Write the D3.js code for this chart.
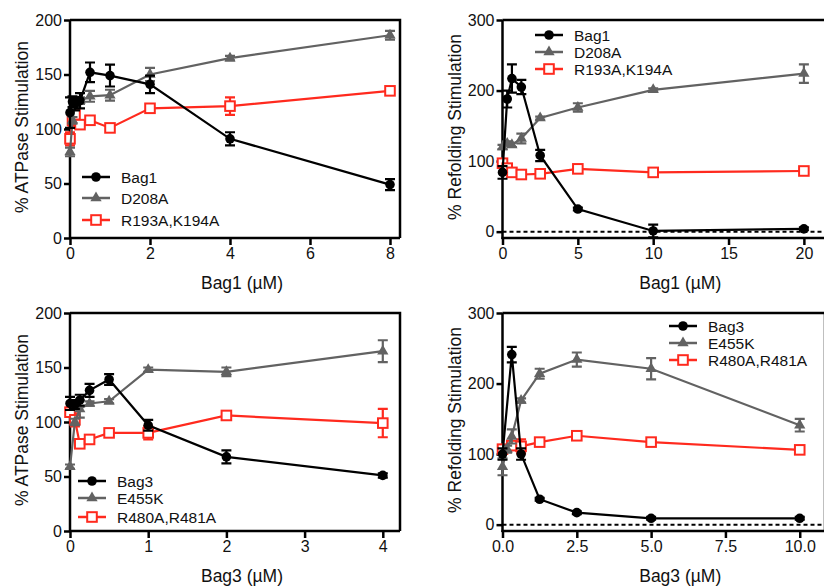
<!DOCTYPE html>
<html>
<head>
<meta charset="utf-8">
<script src="https://cdn.jsdelivr.net/npm/d3@7"></script>
<style>
  body { margin: 0; background: #fff; }
  svg { font-family: "Liberation Sans", Arial, sans-serif; }
</style>
</head>
<body>
<div id="chart"></div>
<script>
/* Bag1 / Bag3 ATPase and refolding panels */

// series names
const bag1Names = ["Bag1", "D208A", "R193A,K194A"];
const bag3Names = ["Bag3", "E455K", "R480A,R481A"];

// A: Bag1 ATPase
const atp1X = [0, 0.0625, 0.125, 0.25, 0.5, 1, 2, 4, 8];
const atp1Wt = [115, 125, 123, 126, 152, 149, 141, 91, 49];
const atp1WtErr = [14, 5, 6, 7, 9, 10, 8, 6, 5];
const atp1Mut1 = [79, 108, 122, 126, 130, 131, 150, 165, 186];
const atp1Mut1Err = [4, 3, 3, 3, 5, 5, 6, 2, 4];
const atp1Mut2 = [91, 108, 113, 104, 108, 101, 119, 121, 135];
const atp1Mut2Err = [6, 5, 3, 3, 2, 2, 2, 8, 2];

// B: Bag1 refolding
const ref1X = [0, 0.3125, 0.625, 1.25, 2.5, 5, 10, 20];
const ref1Wt = [84, 188, 217, 205, 108, 32, 1, 4];
const ref1WtErr = [9, 12, 20, 10, 8, 2, 9, 2];
const ref1Mut1 = [120, 125, 123, 132, 161, 176, 201, 224];
const ref1Mut1Err = [3, 3, 3, 7, 2, 6, 2, 13];
const ref1Mut2 = [97, 90, 84, 81, 82, 89, 84, 86];
const ref1Mut2Err = [3, 3, 3, 5, 3, 3, 3, 3];

// C: Bag3 ATPase
const atp3X = [0, 0.0625, 0.125, 0.25, 0.5, 1, 2, 4];
const atp3Wt = [117, 116, 120, 129, 139, 97, 68, 51];
const atp3WtErr = [6, 4, 5, 6, 5, 5, 6, 2];
const atp3Mut1 = [59, 100, 112, 117, 119, 148, 146, 165];
const atp3Mut1Err = [2, 3, 8, 2, 2, 2, 4, 10];
const atp3Mut2 = [109, 102, 80, 84, 90, 90, 106, 99];
const atp3Mut2Err = [4, 6, 3, 3, 3, 6, 2, 13];

// D: Bag3 refolding
const ref3X = [0, 0.156, 0.3125, 0.625, 1.25, 2.5, 5, 10];
const ref3Wt = [100, null, 241, 100, 36, 17, 9, 9];
const ref3WtErr = [8, 0, 11, 8, 2, 2, 2, 2];
const ref3Mut1 = [82, 107, 125, 176, 214, 234, 221, 141];
const ref3Mut1Err = [12, 5, 10, 3, 7, 10, 15, 9];
const ref3Mut2 = [107, null, 112, 111, 117, 126, 117, 106];
const ref3Mut2Err = [4, 0, 4, 10, 5, 3, 3, 5];

// tick labels
const atpYTicks = [0, 50, 100, 150, 200];
const refYTicks = [0, 100, 200, 300];
const atp1XTicks = [0, 2, 4, 6, 8];
const ref1XTicks = [0, 5, 10, 15, 20];
const atp3XTicks = [0, 1, 2, 3, 4];
const ref3XTicks = [0, 2.5, 5, 7.5, 10];

const colors = ["#000000", "#626262", "#ff2a1e"];

const svg = d3.select("#chart").append("svg")
    .attr("width", 824)
    .attr("height", 586);

function series(xs, vals, errs) {
    return xs.map((x, i) => ({x: x, y: vals[i], e: errs[i]}));
}

function drawPanel(p) {
    const x = d3.scaleLinear().domain(p.xDomain).range(p.xRange);
    const y = d3.scaleLinear().domain(p.yDomain).range(p.yRange);
    const g = svg.append("g");
    const bottom = p.yRange[0], top = p.yRange[1];

    // frame (top + right)
    g.append("path")
        .attr("d", `M${p.xRange[0]},${top}H${p.xRange[1]}V${bottom}`)
        .attr("fill", "none").attr("stroke", "#000").attr("stroke-width", 2.5);

    if (p.zeroLine) {
        g.append("line")
            .attr("x1", p.xRange[0]).attr("x2", p.xRange[1])
            .attr("y1", y(0)).attr("y2", y(0))
            .attr("stroke", "#000").attr("stroke-width", 2)
            .attr("stroke-dasharray", "4,3");
    }

    const xAxis = g.append("g")
        .attr("transform", `translate(0,${bottom})`)
        .call(d3.axisBottom(x).tickValues(p.xTicks).tickFormat(p.xFormat)
            .tickSize(7).tickSizeOuter(0).tickPadding(3));
    const yAxis = g.append("g")
        .attr("transform", `translate(${p.xRange[0]},0)`)
        .call(d3.axisLeft(y).tickValues(p.yTicks).tickSize(6).tickSizeOuter(0).tickPadding(2));
    [xAxis, yAxis].forEach(a => {
        a.select(".domain").attr("stroke-width", 2.5);
        a.selectAll(".tick line").attr("stroke-width", 2.5);
        a.selectAll("text").attr("font-size", 16).attr("fill", "#111")
            .attr("font-family", "Liberation Sans, Arial, sans-serif");
    });
    yAxis.select(".domain").attr("d", `M0,${top}V${bottom + 1}`);
    xAxis.select(".domain").attr("d", `M${p.xRange[0] - 1},0H${p.xRange[1]}`);

    // axis titles
    g.append("text")
        .attr("x", (p.xRange[0] + Math.min(p.xRange[1], 824)) / 2 + p.xTitleShift)
        .attr("y", bottom + 51)
        .attr("text-anchor", "middle")
        .attr("font-size", 17.5).attr("fill", "#111")
        .text(p.xTitle);
    g.append("text")
        .attr("transform", `translate(${p.xRange[0] - 42},${(top + bottom) / 2 - 2}) rotate(-90)`)
        .attr("text-anchor", "middle")
        .attr("font-size", 17.5).attr("fill", "#111")
        .text(p.yTitle);

    const line = d3.line().defined(d => d.y != null).x(d => x(d.x)).y(d => y(d.y));

    // draw red, gray, black so black sits on top
    [2, 1, 0].forEach(k => {
        const data = p.data[k].filter(d => d.y != null);
        const c = colors[k];
        const sg = g.append("g");
        sg.append("path").datum(p.data[k].filter(d => d.y != null))
            .attr("d", line).attr("fill", "none")
            .attr("stroke", c).attr("stroke-width", 2.2);
        // error bars
        const eb = sg.selectAll(".eb").data(data.filter(d => d.e > 1.5)).join("g");
        eb.append("path")
            .attr("d", d => {
                const cx = x(d.x), y1 = y(d.y + d.e), y2 = y(d.y - d.e);
                return `M${cx},${y1}V${y2}M${cx - 5},${y1}H${cx + 5}M${cx - 5},${y2}H${cx + 5}`;
            })
            .attr("fill", "none").attr("stroke", c).attr("stroke-width", 2.2);
        drawMarker(sg, data.map(d => [x(d.x), y(d.y)]), k);
    });

    // legend
    p.names.forEach((name, k) => {
        const ly = p.legend.y[k];
        const lg = g.append("g");
        lg.append("line")
            .attr("x1", p.legend.x).attr("x2", p.legend.x + 28)
            .attr("y1", ly).attr("y2", ly)
            .attr("stroke", colors[k]).attr("stroke-width", 2.5);
        drawMarker(lg, [[p.legend.x + 14, ly]], k);
        lg.append("text")
            .attr("x", p.legend.x + 39).attr("y", ly + 5.5)
            .attr("font-size", 15.5).attr("fill", "#111")
            .text(name);
    });
}

function drawMarker(sel, pts, k) {
    if (k === 0) {
        sel.selectAll(null).data(pts).join("circle")
            .attr("cx", d => d[0]).attr("cy", d => d[1]).attr("r", 4.8)
            .attr("fill", colors[0]);
    } else if (k === 1) {
        sel.selectAll(null).data(pts).join("path")
            .attr("transform", d => `translate(${d[0]},${d[1]})`)
            .attr("d", d3.symbol(d3.symbolTriangle, 55))
            .attr("fill", colors[1]);
    } else {
        sel.selectAll(null).data(pts).join("rect")
            .attr("x", d => d[0] - 4.8).attr("y", d => d[1] - 4.8)
            .attr("width", 9.6).attr("height", 9.6)
            .attr("fill", "#fff").attr("stroke", colors[2]).attr("stroke-width", 2);
    }
}

drawPanel({
    xDomain: [0, 8.25], xRange: [70, 400],
    yDomain: [0, 200], yRange: [238, 20],
    xTicks: atp1XTicks, xFormat: d3.format("d"), yTicks: atpYTicks,
    xTitle: "Bag1 (µM)", yTitle: "% ATPase Stimulation", xTitleShift: 7,
    names: bag1Names, legend: {x: 82, y: [177, 198, 220]},
    data: [series(atp1X, atp1Wt, atp1WtErr), series(atp1X, atp1Mut1, atp1Mut1Err), series(atp1X, atp1Mut2, atp1Mut2Err)]
});

drawPanel({
    xDomain: [0, 21.6], xRange: [502.5, 828],
    yDomain: [-9, 300], yRange: [238, 20],
    xTicks: ref1XTicks, xFormat: d3.format("d"), yTicks: refYTicks, zeroLine: true,
    xTitle: "Bag1 (µM)", yTitle: "% Refolding Stimulation", xTitleShift: 17,
    names: bag1Names, legend: {x: 535, y: [35, 52, 69]},
    data: [series(ref1X, ref1Wt, ref1WtErr), series(ref1X, ref1Mut1, ref1Mut1Err), series(ref1X, ref1Mut2, ref1Mut2Err)]
});

drawPanel({
    xDomain: [0, 4.22], xRange: [70, 400],
    yDomain: [0, 200], yRange: [531, 313],
    xTicks: atp3XTicks, xFormat: d3.format("d"), yTicks: atpYTicks,
    xTitle: "Bag3 (µM)", yTitle: "% ATPase Stimulation", xTitleShift: 7,
    names: bag3Names, legend: {x: 78, y: [481, 498, 517]},
    data: [series(atp3X, atp3Wt, atp3WtErr), series(atp3X, atp3Mut1, atp3Mut1Err), series(atp3X, atp3Mut2, atp3Mut2Err)]
});

drawPanel({
    xDomain: [0, 10.85], xRange: [502.5, 825],
    yDomain: [-9, 300], yRange: [531, 313],
    xTicks: ref3XTicks, xFormat: d3.format(".1f"), yTicks: refYTicks, zeroLine: true,
    xTitle: "Bag3 (µM)", yTitle: "% Refolding Stimulation", xTitleShift: 17,
    names: bag3Names, legend: {x: 669, y: [326, 343, 360]},
    data: [series(ref3X, ref3Wt, ref3WtErr), series(ref3X, ref3Mut1, ref3Mut1Err), series(ref3X, ref3Mut2, ref3Mut2Err)]
});
</script>
</body>
</html>
